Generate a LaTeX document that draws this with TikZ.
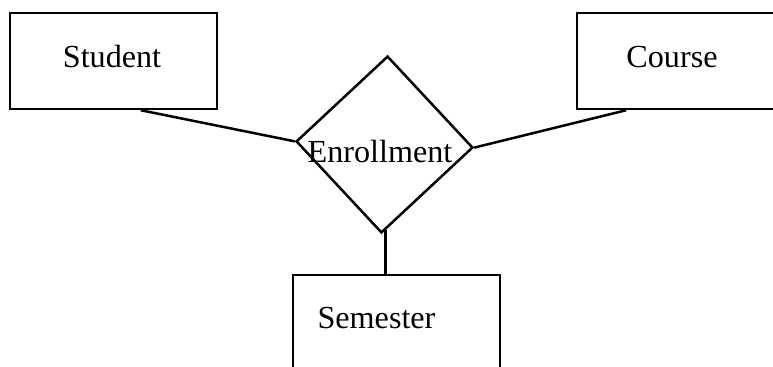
\documentclass[tikz,border=0pt]{standalone}
\usepackage{fontspec}
\setmainfont{Liberation Serif}
\usetikzlibrary{calc,shapes.geometric}

\begin{document}
\begin{tikzpicture}[x=0.02cm, y=-0.02cm,
        er line/.style={line width=0.05cm},
        entity/.style={draw, er line, rectangle, inner sep=0pt, minimum width=4.14cm, minimum height=1.92cm},
        relation/.style={draw, er line, diamond, inner sep=0pt, minimum width=3.54cm, minimum height=3.54cm, rotate=-2},
        er text/.style={draw=none, fill=none, anchor=base, inner sep=0pt, font=\fontsize{18.3}{21}\selectfont}]
        \useasboundingbox (0, 0) rectangle (773, 367);
        \clip (0, 0) rectangle (773, 367);

        % Student
        \node[entity] (Student) at (113.5, 61) {};
        \node[er text] (StudentName) at ($(Student) + (-1.5, 6.5)$) {Student};

        % Course
        \node[entity, minimum width=5cm] (Course) at (702, 61) {};
        \node[er text] (CourseName) at ($(Course) + (-30, 6.5)$) {Course};

        % Enrollment
        \node[relation] (Enrollment) at (384.5, 144.5) {};
        \node[er text] (EnrollmentName) at ($(Enrollment) + (-4.5, 18)$) {Enrollment};

        % Semester
        \node[entity, minimum height=2.5cm] (Semester) at (396.5, 337.5) {};
        \node[er text] (SemesterName) at ($(Semester) + (-20, -9)$) {Semester};

        \draw[er line] (Student.-61) -- (Enrollment.west);
        \draw[er line] (Course.213) -- (Enrollment.east);
        \draw[er line] ([shift={(0.08cm, 0.08cm)}]Enrollment.south) -- ([shift={(0.08cm, 0)}]Enrollment.south |- Semester.north);
\end{tikzpicture}
\end{document}
